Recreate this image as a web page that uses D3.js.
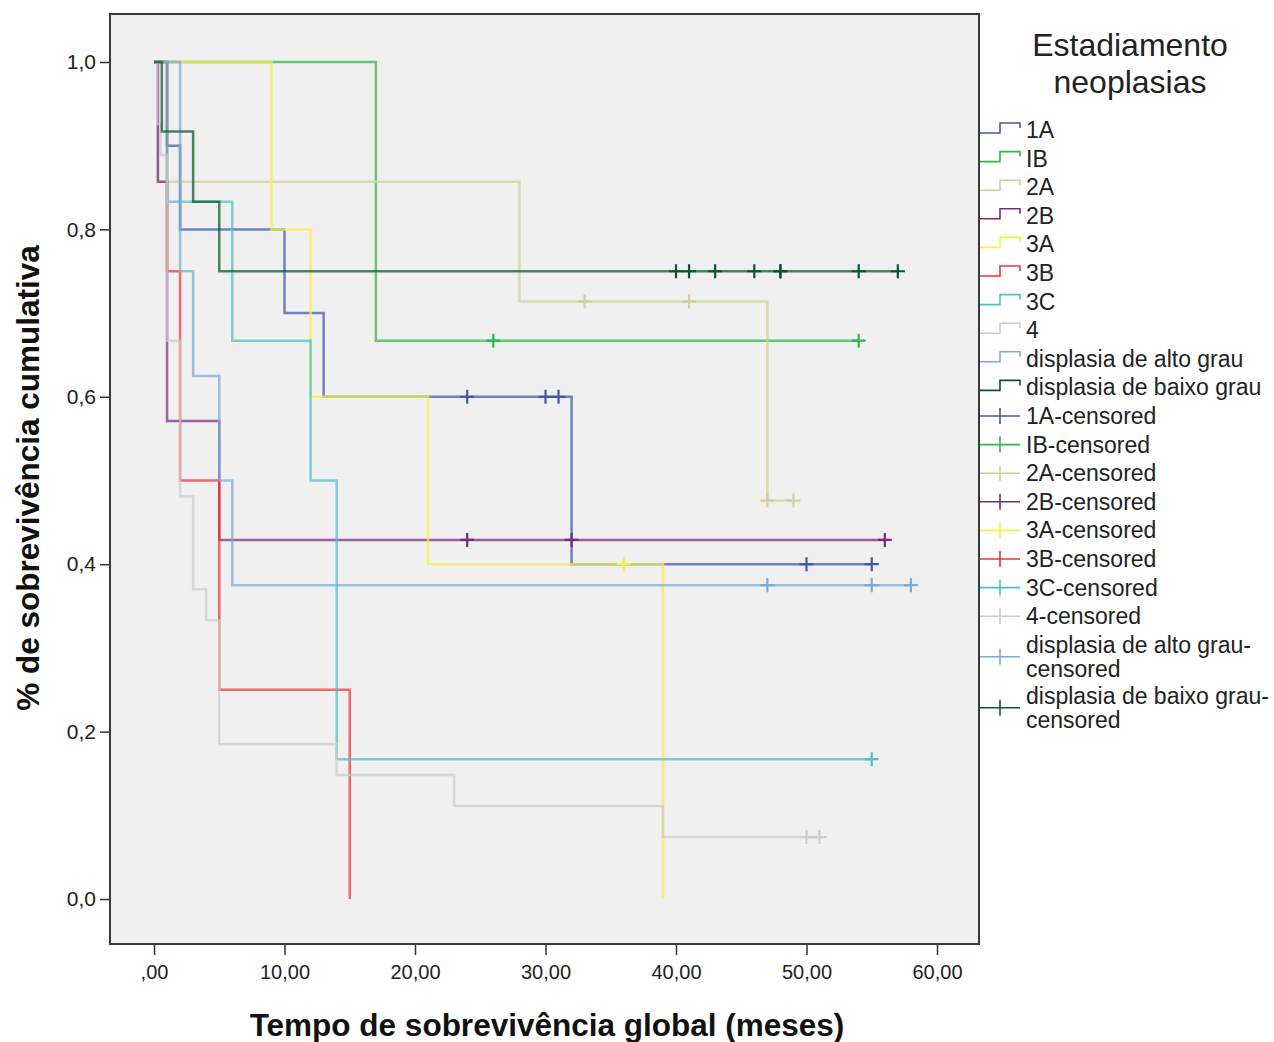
<!DOCTYPE html>
<html>
<head>
<meta charset="utf-8">
<script src="https://cdn.jsdelivr.net/npm/d3@7"></script>
<style>
  body { margin: 0; background: #ffffff; }
  svg { display: block; font-family: "Liberation Sans", Arial, sans-serif; }
</style>
</head>
<body>
<svg id="chart" width="1274" height="1042"></svg>
<script>
// Kaplan–Meier curves, overall survival by tumour stage
const groups = ["1A", "IB", "2A", "2B", "3A", "3B", "3C", "4",
  "displasia de alto grau", "displasia de baixo grau"];
const groupColors = ["#3E58AC", "#2EB848", "#D3CE97", "#7C287D", "#F8F040",
  "#EF3338", "#48C2C5", "#CCCCCC", "#7AAAD5", "#0A562C"];

// event times (months) and cumulative survival after each event
const eventTimes = [
  [1, 2, 10, 13, 32],
  [17],
  [0.3, 28, 47],
  [0.3, 1, 5],
  [9, 12, 21, 39],
  [1, 2, 5, 15],
  [1, 6, 12, 14],
  [0.25, 0.5, 1, 2, 3, 4, 5, 14, 23, 39],
  [2, 3, 5, 6],
  [0.6, 3, 5]
];
const survival = [
  [0.900, 0.800, 0.700, 0.600, 0.400],
  [0.667],
  [0.857, 0.714, 0.476],
  [0.857, 0.571, 0.429],
  [0.800, 0.600, 0.400, 0.000],
  [0.750, 0.500, 0.250, 0.000],
  [0.833, 0.667, 0.500, 0.167],
  [0.926, 0.889, 0.667, 0.481, 0.370, 0.333, 0.185, 0.148, 0.111, 0.074],
  [0.750, 0.625, 0.500, 0.375],
  [0.917, 0.833, 0.750]
];
// censored observation times (months)
const censorTimes = [
  [24, 30, 31, 50, 55],
  [26, 54],
  [33, 41, 47, 49],
  [24, 32, 56],
  [36],
  [],
  [55],
  [50, 51],
  [47, 55, 58],
  [40, 41, 43, 46, 48, 48, 54, 57]
];

const xTicks = [0, 10, 20, 30, 40, 50, 60];
const xTickLabels = [",00", "10,00", "20,00", "30,00", "40,00", "50,00", "60,00"];
const yTicks = [0, 0.2, 0.4, 0.6, 0.8, 1.0];
const yTickLabels = ["0,0", "0,2", "0,4", "0,6", "0,8", "1,0"];

const svg = d3.select("#chart");
const frame = { left: 110, top: 14, right: 979, bottom: 944 };

const x = d3.scaleLinear().domain([0, 60]).range([154, 937]);
const y = d3.scaleLinear().domain([0, 1]).range([899, 62]);

// plot background
svg.append("rect")
  .attr("x", frame.left).attr("y", frame.top)
  .attr("width", frame.right - frame.left).attr("height", frame.bottom - frame.top)
  .attr("fill", "#f0f0f0");

// axes
const yAxis = d3.axisLeft(y).tickValues(yTicks)
  .tickFormat((d, i) => yTickLabels[i]).tickSize(10).tickPadding(4);
const gy = svg.append("g").attr("transform", `translate(${frame.left},0)`).call(yAxis);
gy.select(".domain").remove();
gy.selectAll(".tick line").attr("stroke", "#333").attr("stroke-width", 1.5);
gy.selectAll(".tick text").attr("font-size", 21).attr("fill", "#222");

const xAxis = d3.axisBottom(x).tickValues(xTicks)
  .tickFormat((d, i) => xTickLabels[i]).tickSize(11).tickPadding(10);
const gx = svg.append("g").attr("transform", `translate(0,${frame.bottom})`).call(xAxis);
gx.select(".domain").remove();
gx.selectAll(".tick line").attr("stroke", "#333").attr("stroke-width", 1.5);
gx.selectAll(".tick text").attr("font-size", 20).attr("fill", "#222");

// survival curves
const stepLine = d3.line().x(d => x(d[0])).y(d => y(d[1])).curve(d3.curveStepAfter);
const curves = svg.append("g");
groups.forEach((g, i) => {
  const pts = [[0, 1]];
  eventTimes[i].forEach((t, k) => pts.push([t, survival[i][k]]));
  const lastEvent = eventTimes[i][eventTimes[i].length - 1];
  const lastTime = d3.max([lastEvent, ...censorTimes[i]]);
  if (lastTime > lastEvent) pts.push([lastTime, survival[i][survival[i].length - 1]]);
  curves.append("path")
    .attr("d", stepLine(pts))
    .attr("fill", "none")
    .attr("stroke", groupColors[i])
    .attr("stroke-width", 2.5)
    .attr("stroke-opacity", 0.72);
});

// censor marks
function survAt(i, t) {
  let s = 1;
  eventTimes[i].forEach((e, k) => { if (e <= t) s = survival[i][k]; });
  return s;
}
const marks = svg.append("g");
groups.forEach((g, i) => {
  censorTimes[i].forEach(t => {
    const cx = x(t), cy = y(survAt(i, t));
    marks.append("path")
      .attr("d", `M${cx - 7},${cy}H${cx + 7}M${cx},${cy - 7}V${cy + 7}`)
      .attr("stroke", groupColors[i])
      .attr("stroke-width", 2.2)
      .attr("fill", "none");
  });
});

// plot frame
svg.append("rect")
  .attr("x", frame.left).attr("y", frame.top)
  .attr("width", frame.right - frame.left).attr("height", frame.bottom - frame.top)
  .attr("fill", "none").attr("stroke", "#3a3a3a").attr("stroke-width", 2);

// axis titles
svg.append("text")
  .attr("x", 547).attr("y", 1036)
  .attr("text-anchor", "middle")
  .attr("font-size", 31.5).attr("font-weight", "bold").attr("fill", "#111")
  .text("Tempo de sobrevivência global (meses)");
svg.append("text")
  .attr("transform", "translate(39,478) rotate(-90)")
  .attr("text-anchor", "middle")
  .attr("font-size", 31.5).attr("font-weight", "bold").attr("fill", "#111")
  .text("% de sobrevivência cumulativa");

// legend
const legend = svg.append("g");
legend.append("text").attr("x", 1130).attr("y", 56).attr("text-anchor", "middle")
  .attr("font-size", 32).attr("fill", "#222").text("Estadiamento");
legend.append("text").attr("x", 1130).attr("y", 93).attr("text-anchor", "middle")
  .attr("font-size", 32).attr("fill", "#222").text("neoplasias");

const rowStep = 28.6;
let rowY = 130;
groups.forEach((g, i) => {
  legend.append("path")
    .attr("d", `M980,${rowY + 3}H1000V${rowY - 7}H1020V${rowY - 2}`)
    .attr("fill", "none").attr("stroke", groupColors[i]).attr("stroke-width", 1.6);
  legend.append("text").attr("x", 1026).attr("y", rowY + 8)
    .attr("font-size", 23).attr("fill", "#222").text(g);
  rowY += rowStep;
});
groups.forEach((g, i) => {
  const label = g + "-censored";
  const twoLines = label.length > 20;
  const cy = twoLines ? rowY + 12 : rowY;
  legend.append("path")
    .attr("d", `M980,${cy}H1020M1000,${cy - 8}V${cy + 8}`)
    .attr("fill", "none").attr("stroke", groupColors[i]).attr("stroke-width", 1.6);
  if (twoLines) {
    legend.append("text").attr("x", 1026).attr("y", rowY + 8)
      .attr("font-size", 23).attr("fill", "#222").text(g + "-");
    legend.append("text").attr("x", 1026).attr("y", rowY + 32)
      .attr("font-size", 23).attr("fill", "#222").text("censored");
    rowY += 51;
  } else {
    legend.append("text").attr("x", 1026).attr("y", rowY + 8)
      .attr("font-size", 23).attr("fill", "#222").text(label);
    rowY += rowStep;
  }
});
</script>
</body>
</html>
